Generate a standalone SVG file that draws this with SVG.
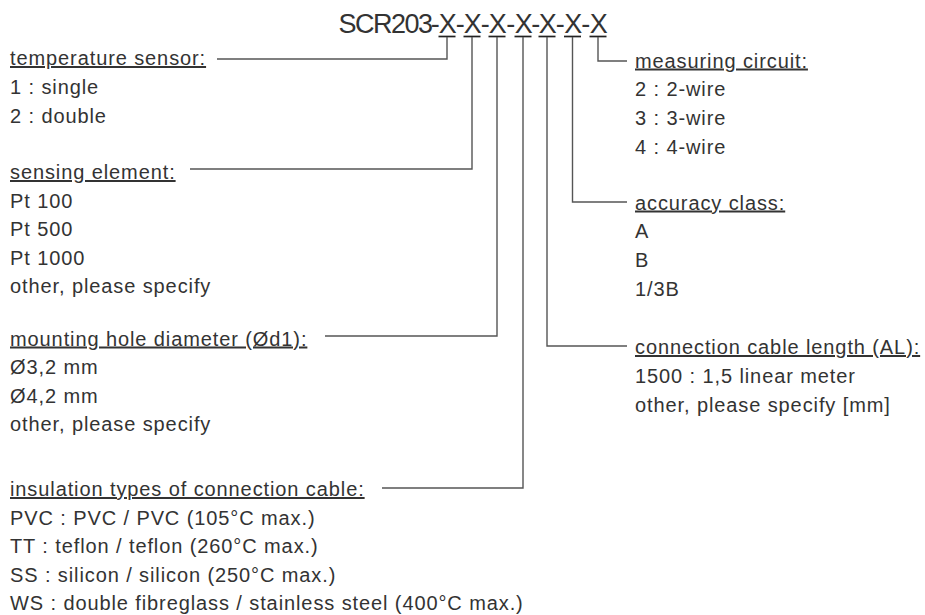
<svg xmlns="http://www.w3.org/2000/svg" width="925" height="615" viewBox="0 0 925 615">
<style>
  text { font-family: "Liberation Sans", Arial, sans-serif; fill: #333; }
  .t { font-size: 20px; letter-spacing: 0.9px; }
  .h { text-decoration: underline; }
  .title { font-size: 27px; letter-spacing: -1.5px; }
  .conn { fill: none; stroke: #555; stroke-width: 1.4; }
  .ul { stroke: #222; stroke-width: 1.7; }
</style>
<rect width="925" height="615" fill="#fff"/>

<g id="title">
  <text class="title" text-anchor="middle" y="33"><tspan x="385">SCR203</tspan><tspan x="434.5">-</tspan><tspan x="447">X</tspan><tspan x="459.5">-</tspan><tspan x="472">X</tspan><tspan x="484.5">-</tspan><tspan x="497">X</tspan><tspan x="510">-</tspan><tspan x="523">X</tspan><tspan x="535">-</tspan><tspan x="547">X</tspan><tspan x="559.5">-</tspan><tspan x="572.5">X</tspan><tspan x="585">-</tspan><tspan x="598">X</tspan></text>
  <line class="ul" x1="438.5" y1="36.5" x2="455.5" y2="36.5"/>
  <line class="ul" x1="463.5" y1="36.5" x2="480.5" y2="36.5"/>
  <line class="ul" x1="488.5" y1="36.5" x2="505.5" y2="36.5"/>
  <line class="ul" x1="514.5" y1="36.5" x2="531.5" y2="36.5"/>
  <line class="ul" x1="538.5" y1="36.5" x2="555.5" y2="36.5"/>
  <line class="ul" x1="564" y1="36.5" x2="581" y2="36.5"/>
  <line class="ul" x1="589.5" y1="36.5" x2="606.5" y2="36.5"/>
</g>

<g id="connectors">
  <path class="conn" d="M447,37 V59 H217"/>
  <path class="conn" d="M472,37 V169 H190"/>
  <path class="conn" d="M497,37 V336 H325"/>
  <path class="conn" d="M523,37 V488 H382"/>
  <path class="conn" d="M547,37 V346 H627"/>
  <path class="conn" d="M572.5,37 V202 H627"/>
  <path class="conn" d="M598,37 V61 H627"/>
</g>

<g id="temperature-sensor">
  <text class="t h" x="10" y="65">temperature sensor:</text>
  <text class="t" x="10" y="94">1 : single</text>
  <text class="t" x="10" y="122.5">2 : double</text>
</g>

<g id="sensing-element">
  <text class="t h" x="10" y="179">sensing element:</text>
  <text class="t" x="10" y="207.5">Pt 100</text>
  <text class="t" x="10" y="236">Pt 500</text>
  <text class="t" x="10" y="264.5">Pt 1000</text>
  <text class="t" x="10" y="293">other, please specify</text>
</g>

<g id="mounting-hole">
  <text class="t h" x="10" y="345.5">mounting hole diameter (Ød1):</text>
  <text class="t" x="10" y="374">Ø3,2 mm</text>
  <text class="t" x="10" y="402.5">Ø4,2 mm</text>
  <text class="t" x="10" y="431">other, please specify</text>
</g>

<g id="insulation">
  <text class="t h" x="10" y="496">insulation types of connection cable:</text>
  <text class="t" x="10" y="524.5">PVC : PVC / PVC (105°C max.)</text>
  <text class="t" x="10" y="553">TT : teflon / teflon (260°C max.)</text>
  <text class="t" x="10" y="581.5">SS : silicon / silicon (250°C max.)</text>
  <text class="t" x="10" y="610">WS : double fibreglass / stainless steel (400°C max.)</text>
</g>

<g id="measuring-circuit">
  <text class="t h" x="635" y="67.5">measuring circuit:</text>
  <text class="t" x="635" y="96">2 : 2-wire</text>
  <text class="t" x="635" y="125">3 : 3-wire</text>
  <text class="t" x="635" y="153.5">4 : 4-wire</text>
</g>

<g id="accuracy-class">
  <text class="t h" x="635" y="209.5">accuracy class:</text>
  <text class="t" x="635" y="238">A</text>
  <text class="t" x="635" y="266.5">B</text>
  <text class="t" x="635" y="295.5">1/3B</text>
</g>

<g id="cable-length">
  <text class="t h" x="635" y="354">connection cable length (AL):</text>
  <text class="t" x="635" y="383">1500 : 1,5 linear meter</text>
  <text class="t" x="635" y="411.5">other, please specify [mm]</text>
</g>
</svg>
